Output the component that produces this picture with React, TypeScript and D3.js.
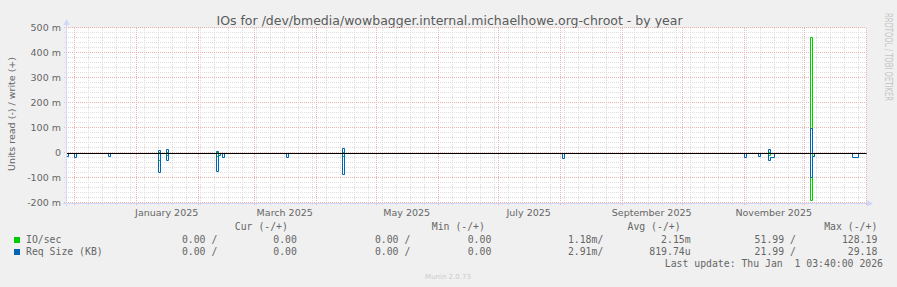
import React from "react";
import * as d3 from "d3";

// ---------- data (values in milli-units, reads are magnitudes shown below zero) ----------
const windowEnd = "2026-01-01T03:40:00Z";
const windowDays = 400;

const yTickValues = [500, 400, 300, 200, 100, 0, -100, -200];
const yTickLabels = ["500 m", "400 m", "300 m", "200 m", "100 m", "0", "-100 m", "-200 m"];

const xLabelMonths = ["2025-01-01", "2025-03-01", "2025-05-01", "2025-07-01", "2025-09-01", "2025-11-01"];
const xLabels = ["January 2025", "March 2025", "May 2025", "July 2025", "September 2025", "November 2025"];

// [day, value] — each value holds for that day, 0 afterwards until next point
const ioRead: [string, number][] = [
  ["2025-01-12", 28], ["2025-01-13", 0],
  ["2025-01-16", 8], ["2025-01-17", 0],
  ["2025-02-10", 10], ["2025-02-11", 0],
  ["2025-04-14", 10], ["2025-04-15", 0],
  ["2025-11-13", 7], ["2025-11-14", 0],
  ["2025-12-04", 188], ["2025-12-05", 0],
];
const ioWrite: [string, number][] = [
  ["2025-01-12", 5], ["2025-01-13", 0],
  ["2025-01-16", 5], ["2025-01-17", 0],
  ["2025-02-10", 3], ["2025-02-11", 0],
  ["2025-04-14", 5], ["2025-04-15", 0],
  ["2025-11-13", 5], ["2025-11-14", 0],
  ["2025-12-04", 463], ["2025-12-05", 0],
];
const reqRead: [string, number][] = [
  ["2024-11-27", 13], ["2024-11-28", 0],
  ["2024-12-01", 17], ["2024-12-02", 0],
  ["2024-12-18", 13], ["2024-12-19", 0],
  ["2025-01-12", 75], ["2025-01-13", 0],
  ["2025-01-16", 28], ["2025-01-17", 0],
  ["2025-02-10", 71], ["2025-02-11", 6], ["2025-02-12", 0],
  ["2025-02-13", 15], ["2025-02-14", 0],
  ["2025-03-17", 17], ["2025-03-18", 0],
  ["2025-04-14", 85], ["2025-04-15", 0],
  ["2025-08-02", 21], ["2025-08-03", 0],
  ["2025-11-01", 15], ["2025-11-02", 0],
  ["2025-11-08", 11], ["2025-11-09", 0],
  ["2025-11-13", 28], ["2025-11-14", 15], ["2025-11-16", 0],
  ["2025-12-04", 95], ["2025-12-05", 10], ["2025-12-06", 0],
  ["2025-12-25", 15], ["2025-12-28", 0],
];
const reqWrite: [string, number][] = [
  ["2025-01-12", 12], ["2025-01-13", 0],
  ["2025-01-16", 15], ["2025-01-17", 0],
  ["2025-02-10", 7], ["2025-02-11", 0],
  ["2025-04-14", 19], ["2025-04-15", 0],
  ["2025-11-13", 15], ["2025-11-14", 0],
  ["2025-12-04", 101], ["2025-12-05", 0],
];

const legendRows = [
  { name: "IO/sec", color: "#00cc00", vals: ["0.00 /", "0.00", "0.00 /", "0.00", "1.18m/", "2.15m", "51.99 /", "128.19"] },
  { name: "Req Size (KB)", color: "#0066b3", vals: ["0.00 /", "0.00", "0.00 /", "0.00", "2.91m/", "819.74u", "21.99 /", "29.18"] },
];
const legendHeaders = ["Cur (-/+)", "Min (-/+)", "Avg (-/+)", "Max (-/+)"];

// ---------- layout ----------
const W = 897, H = 287;
const PL = 67, PR = 866, PT = 28, PB = 203;
const FONT = "DejaVu Sans, sans-serif";
const MONO = "DejaVu Sans Mono, monospace";
const TXT = "#666666";
const AXIS = "#CFD6F8";
const MGRID = "#ebb4b4";
const GRID = "#dddddd";

export default function App() {
  const end = new Date(windowEnd);
  const start = d3.utcDay.offset(end, -windowDays);
  const x = d3.scaleUtc().domain([start, end]).range([66, 866]);
  const y = d3.scaleLinear().domain([-200, 500]).range([PB, PT]);

  const minorY = y.ticks(35).filter((v) => !yTickValues.includes(v));
  const months = d3.utcMonth.range(start, end);
  const weeks = d3.utcSunday.range(start, end);

  const mkPath = (pts: [string, number][], sign: number) => {
    const arr: [Date, number][] = [[start, 0], ...pts.map(([d, v]) => [new Date(d + "T00:00:00Z"), v] as [Date, number]), [end, 0]];
    return d3.line<[Date, number]>().x((p) => Math.round(x(p[0]))).y((p) => Math.round(y(sign * p[1]))).curve(d3.curveStepAfter)(arr) || "";
  };

  const crisp = (v: number) => Math.round(v) + 0.5;
  const zeroY = crisp(y(0));

  const valueEnds = [217.3, 296.9, 410.3, 491.3, 603.3, 690.6, 795.9, 877.3];
  const headerEnds = [287.9, 484.9, 680.6, 877.3];

  return (
    <svg width={W} height={H} style={{ display: "block", position: "absolute", left: 0, top: 0 }} xmlns="http://www.w3.org/2000/svg">
      <rect x={0} y={0} width={W} height={H} fill="#f0f0f0" />
      <rect x={PL} y={PT} width={PR - PL} height={PB - PT} fill="#ffffff" />
      <defs>
        <clipPath id="plotclip"><rect x={PL} y={0} width={PR - PL + 1} height={H} /></clipPath>
      </defs>

      {/* title */}
      <text x={449.5} y={25} textAnchor="middle" fontFamily={FONT} fontSize={12.5} fill="#5a5a5a">
        IOs for /dev/bmedia/wowbagger.internal.michaelhowe.org-chroot - by year
      </text>

      {/* minor horizontal grid */}
      {minorY.map((v) => (
        <line key={"my" + v} x1={64} x2={PR} y1={crisp(y(v)) - 1} y2={crisp(y(v)) - 1} stroke={GRID} strokeDasharray="1,1" />
      ))}
      {/* weekly vertical grid */}
      {weeks.map((d) => (
        <line key={"w" + d.getTime()} x1={crisp(x(d))} x2={crisp(x(d))} y1={PT} y2={PB + 3} stroke={GRID} strokeDasharray="1,1" />
      ))}
      {/* month major grid */}
      {months.map((d) => (
        <line key={"m" + d.getTime()} x1={crisp(x(d))} x2={crisp(x(d))} y1={PT} y2={PB + 3} stroke={MGRID} strokeDasharray="1,1" />
      ))}
      {/* major horizontal grid */}
      {yTickValues.map((v) => (
        <line key={"My" + v} x1={64} x2={PR} y1={crisp(y(v)) - 1} y2={crisp(y(v)) - 1} stroke={MGRID} strokeDasharray="1,1" />
      ))}

      {/* y labels */}
      {yTickValues.map((v, i) => (
        <text key={"yl" + v} x={61} y={y(v) + 3.3} textAnchor="end" fontFamily={FONT} fontSize={9.5} fill={TXT}>
          {yTickLabels[i]}
        </text>
      ))}
      {/* x labels */}
      {xLabelMonths.map((m, i) => {
        const d0 = new Date(m + "T00:00:00Z");
        const d1 = d3.utcMonth.offset(d0, 1);
        return (
          <text key={"xl" + m} x={(x(d0) + x(d1)) / 2} y={215.5} textAnchor="middle" fontFamily={FONT} fontSize={9.5} fill={TXT}>
            {xLabels[i]}
          </text>
        );
      })}

      {/* y axis title */}
      <text transform="translate(14.5,114) rotate(-90)" textAnchor="middle" fontFamily={FONT} fontSize={9.5} fill={TXT}>
        Units read (-) / write (+)
      </text>

      {/* axes */}
      <line x1={66.5} x2={66.5} y1={PB + 3} y2={24} stroke={AXIS} strokeWidth={1} />
      <path d="M63.5,25 L66.5,19 L69.5,25 Z" fill={AXIS} />
      <line x1={63} x2={868} y1={PB + 0.5} y2={PB + 0.5} stroke={AXIS} strokeWidth={1} />
      <path d="M867,200.5 L873,203.5 L867,206.5 Z" fill={AXIS} />

      {/* series */}
      <g clipPath="url(#plotclip)" fill="none" strokeWidth={1}>
        <g transform="translate(0.5,0.5)">
          <path d={mkPath(ioWrite, 1)} stroke="#00cc00" />
          <path d={mkPath(ioRead, -1)} stroke="#00cc00" />
          <path d={mkPath(reqWrite, 1)} stroke="#0066b3" />
          <path d={mkPath(reqRead, -1)} stroke="#0066b3" />
        </g>
      </g>

      {/* zero line */}
      <line x1={PL} x2={PR} y1={zeroY} y2={zeroY} stroke="#000000" strokeWidth={1.2} />

      {/* watermark */}
      <text transform="translate(885,13) rotate(90)" fontFamily={FONT} fontSize={10.5} fill="#c4c4c4" textLength={88} lengthAdjust="spacingAndGlyphs">
        RRDTOOL / TOBI OETIKER
      </text>

      {/* legend */}
      {legendHeaders.map((h, i) => (
        <text key={"h" + i} x={headerEnds[i]} y={229.5} textAnchor="end" fontFamily={MONO} fontSize={9.8} fill={TXT} style={{ whiteSpace: "pre" }}>
          {h}
        </text>
      ))}
      {legendRows.map((r, ri) => (
        <g key={r.name}>
          <rect x={14} y={237 + ri * 12} width={6} height={6} fill={r.color} />
          <text x={26} y={243 + ri * 12} fontFamily={MONO} fontSize={9.8} fill={TXT} style={{ whiteSpace: "pre" }}>{r.name}</text>
          {r.vals.map((v, i) => (
            <text key={i} x={valueEnds[i]} y={243 + ri * 12} textAnchor="end" fontFamily={MONO} fontSize={9.8} fill={TXT} style={{ whiteSpace: "pre" }}>
              {v}
            </text>
          ))}
        </g>
      ))}
      <text x={883} y={266.5} textAnchor="end" fontFamily={MONO} fontSize={9.8} fill={TXT} style={{ whiteSpace: "pre" }}>
        {"Last update: Thu Jan  1 03:40:00 2026"}
      </text>
      <text x={448} y={279} textAnchor="middle" fontFamily={FONT} fontSize={7} fill="#cccccc">
        Munin 2.0.73
      </text>
    </svg>
  );
}
